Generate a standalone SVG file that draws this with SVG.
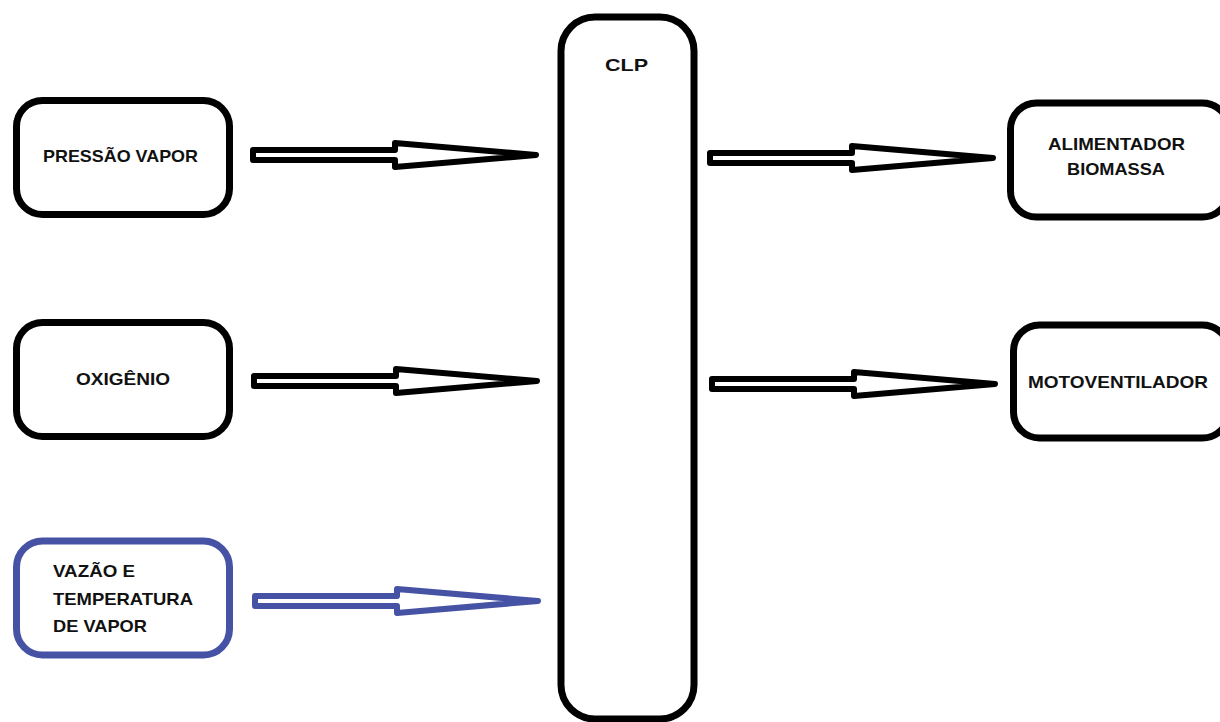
<svg xmlns="http://www.w3.org/2000/svg" width="1220" height="722" viewBox="0 0 1220 722">
  <style>
    .box { fill: #ffffff; stroke: #000000; stroke-width: 7; }
    .blue { stroke: #4653a5; }
    .lbl { font-family: "Liberation Sans", Arial, sans-serif; font-weight: bold; font-size: 17px; fill: #111111; }
    .arrow { fill: #ffffff; stroke: #000000; stroke-width: 6; stroke-linejoin: round; }
    .arrow.blue { stroke: #4653a5; }
  </style>
  <defs>
    <!-- hollow block arrow, drawn around the origin (tip at 0,0), pointing right -->
    <polygon id="hollow-arrow" points="-283,-5 -141,-5 -141,-12 0,0 -141,12 -141,5 -283,5"/>
  </defs>
  <rect width="1220" height="722" fill="#ffffff"/>

  <!-- input nodes -->
  <g id="node-pressao">
    <rect class="box" x="16.5" y="100.5" width="213" height="114" rx="26"/>
    <text class="lbl" x="43" y="162" textLength="155" lengthAdjust="spacingAndGlyphs">PRESSÃO VAPOR</text>
  </g>
  <g id="node-oxigenio">
    <rect class="box" x="16.5" y="322.5" width="213" height="114" rx="26"/>
    <text class="lbl" x="76" y="385" textLength="94" lengthAdjust="spacingAndGlyphs">OXIGÊNIO</text>
  </g>
  <g id="node-vazao">
    <rect class="box blue" x="16.5" y="541" width="213" height="114" rx="26"/>
    <text class="lbl" x="53" y="577" textLength="82" lengthAdjust="spacingAndGlyphs">VAZÃO E</text>
    <text class="lbl" x="53" y="605" textLength="140" lengthAdjust="spacingAndGlyphs">TEMPERATURA</text>
    <text class="lbl" x="53" y="632" textLength="94" lengthAdjust="spacingAndGlyphs">DE VAPOR</text>
  </g>

  <!-- controller -->
  <g id="node-clp">
    <rect class="box" x="561" y="17" width="133" height="702" rx="34"/>
    <text class="lbl" x="605" y="71" textLength="43" lengthAdjust="spacingAndGlyphs">CLP</text>
  </g>

  <!-- output nodes -->
  <g id="node-alimentador">
    <rect class="box" x="1010.5" y="103" width="218" height="114" rx="26"/>
    <text class="lbl" x="1048" y="150" textLength="137" lengthAdjust="spacingAndGlyphs">ALIMENTADOR</text>
    <text class="lbl" x="1067" y="175" textLength="98" lengthAdjust="spacingAndGlyphs">BIOMASSA</text>
  </g>
  <g id="node-motoventilador">
    <rect class="box" x="1013.5" y="325" width="215" height="113" rx="26"/>
    <text class="lbl" x="1028" y="388" textLength="180" lengthAdjust="spacingAndGlyphs">MOTOVENTILADOR</text>
  </g>

  <!-- connectors -->
  <g id="connectors">
    <use href="#hollow-arrow" class="arrow" transform="translate(536,155)"/>
    <use href="#hollow-arrow" class="arrow" transform="translate(537,381)"/>
    <use href="#hollow-arrow" class="arrow blue" transform="translate(538,601)"/>
    <use href="#hollow-arrow" class="arrow" transform="translate(993,158)"/>
    <use href="#hollow-arrow" class="arrow" transform="translate(995,384)"/>
  </g>
</svg>
